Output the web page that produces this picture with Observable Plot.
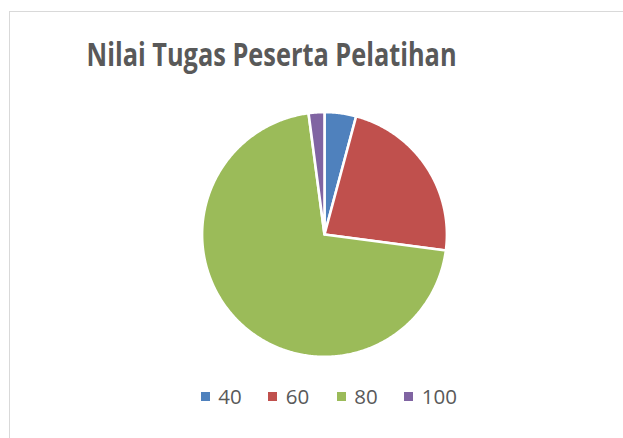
<!DOCTYPE html>
<html>
<head>
<meta charset="utf-8">
<script src="https://cdn.jsdelivr.net/npm/d3@7"></script>
<script src="https://cdn.jsdelivr.net/npm/@observablehq/plot@0.6"></script>
<style>
  html, body { margin: 0; padding: 0; background: #fff; width: 623px; height: 438px; overflow: hidden; position: relative; }
  #frame { position: absolute; left: 9px; top: 11px; width: 700px; height: 500px; border: 1px solid #d9d9d9; box-sizing: border-box; }
  #title { position: absolute; left: 0; top: 38px; width: 544px; text-align: center; line-height: 1; white-space: nowrap; }
  #title span { display: inline-block; font-family: "Open Sans", sans-serif; font-weight: bold; font-size: 32px; color: #595959; transform-origin: center; }
  #chart { position: absolute; left: 194px; top: 104px; }
  #legend { position: absolute; top: 386px; left: 0; height: 24px; }
  .item { position: absolute; top: 0; font-family: "Open Sans", sans-serif; font-size: 20.5px; line-height: 1; color: #595959; white-space: nowrap; }
  .sw { position: absolute; top: 6.3px; left: 0; width: 9px; height: 9px; }
  .lab { position: absolute; left: 17.5px; top: 0; }
</style>
</head>
<body>
<div id="frame"></div>
<div id="title"><span>Nilai Tugas Peserta Pelatihan</span></div>
<div id="chart"></div>
<div id="legend"></div>
<script>
const labels = ["40", "60", "80", "100"];
const counts = [2, 11, 34, 1];
const colors = ["#4F81BD", "#C0504D", "#9BBB59", "#8064A2"];

// Build slice outlines from the data-derived pie angles
const arcs = d3.pie().sort(null).value(d => d)(counts);
const pts = [];
arcs.forEach((a, i) => {
  const label = labels[i];
  pts.push({label, x: 0, y: 0});
  const n = Math.max(2, Math.ceil((a.endAngle - a.startAngle) / 0.01));
  for (let k = 0; k <= n; k++) {
    const t = a.startAngle + (a.endAngle - a.startAngle) * k / n;
    pts.push({label, x: Math.sin(t), y: Math.cos(t)});
  }
  pts.push({label, x: 0, y: 0});
});

const chart = Plot.plot({
  width: 260,
  height: 260,
  margin: 0,
  x: {domain: [-1.062, 1.062], axis: null},
  y: {domain: [-1.062, 1.062], axis: null},
  color: {domain: labels, range: colors},
  marks: [
    Plot.line(pts, {x: "x", y: "y", z: "label", fill: "label", stroke: "white", strokeWidth: 2.6, strokeLinejoin: "round"})
  ]
});
document.getElementById("chart").appendChild(chart);

// Title width fit
const span = document.querySelector("#title span");
const w = span.getBoundingClientRect().width;
span.style.transform = `scaleX(${370 / w})`;

// Legend
const legend = document.getElementById("legend");
const starts = [200.7, 268.3, 336.7, 404.3];
labels.forEach((l, i) => {
  const it = document.createElement("div");
  it.className = "item";
  it.style.left = starts[i] + "px";
  const sw = document.createElement("div");
  sw.className = "sw";
  sw.style.background = colors[i];
  const lab = document.createElement("div");
  lab.className = "lab";
  lab.textContent = l;
  it.appendChild(sw);
  it.appendChild(lab);
  legend.appendChild(it);
});
</script>
</body>
</html>
